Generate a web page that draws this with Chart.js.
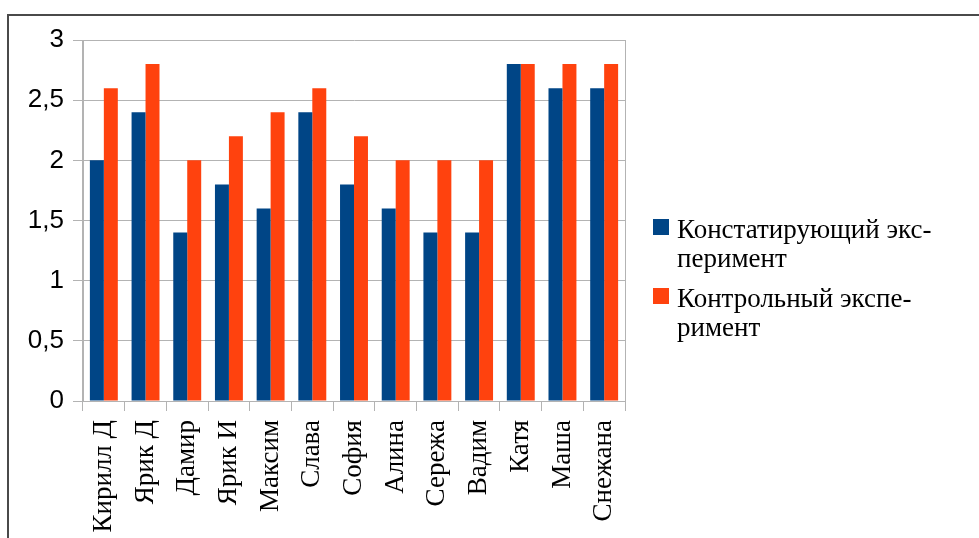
<!DOCTYPE html>
<html>
<head>
<meta charset="utf-8">
<script src="https://cdn.jsdelivr.net/npm/chart.js@4"></script>
<style>
  html, body { margin: 0; padding: 0; background: #fff; overflow: hidden; }
  #wrap { position: relative; width: 979px; height: 538px; }
  #frame { position: absolute; left: 7px; top: 14px; width: 1000px; height: 600px;
           border-top: 2px solid #4a4a4a; border-left: 2px solid #4a4a4a; box-sizing: border-box; }
  canvas { position: absolute; left: 0; top: 0; }
</style>
</head>
<body>
<div id="wrap">
  <div id="frame"></div>
  <canvas id="chart" width="979" height="538"></canvas>
</div>
<script>
// Names of the pupils
const names = ['Кирилл Д', 'Ярик Д', 'Дамир', 'Ярик И', 'Максим', 'Слава', 'София',
               'Алина', 'Сережа', 'Вадим', 'Катя', 'Маша', 'Снежана'];

// Scores per experiment
const ascertaining = [2, 2.4, 1.4, 1.8, 1.6, 2.4, 1.8, 1.6, 1.4, 1.4, 2.8, 2.6, 2.6];
const control = [2.6, 2.8, 2, 2.2, 2.4, 2.6, 2.2, 2, 2, 2, 2.8, 2.8, 2.8];

// Legend text, split the way it wraps
const seriesNames = ['Констатирующий эксперимент', 'Контрольный эксперимент'];
const legendLines = [
    ['Констатирующий экс-', 'перимент'],
    ['Контрольный экспе-', 'римент']
];
const yTicks = [0, 0.5, 1, 1.5, 2, 2.5, 3];

const colors = ['#004586', '#ff420e'];
const gridGray = '#b3b3b3';

// Legend drawn on the right side of the canvas
const sideLegend = {
    id: 'sideLegend',
    afterDraw(chart) {
        const ctx = chart.ctx;
        ctx.save();
        ctx.font = '27px "Liberation Serif"';
        ctx.textBaseline = 'alphabetic';
        let y = 238;
        legendLines.forEach((lines, i) => {
            ctx.fillStyle = colors[i];
            ctx.fillRect(653, y - 19, 16, 16);
            ctx.fillStyle = '#000';
            lines.forEach((line, j) => {
                ctx.fillText(line, 677, y + j * 29);
            });
            y += 69;
        });
        ctx.restore();
    }
};

const ctx = document.getElementById('chart').getContext('2d');
new Chart(ctx, {
    type: 'bar',
    data: {
        labels: names,
        datasets: [
            { label: seriesNames[0], data: ascertaining, backgroundColor: colors[0] },
            { label: seriesNames[1], data: control, backgroundColor: colors[1] }
        ]
    },
    options: {
        responsive: false,
        animation: false,
        layout: { padding: { left: 0, top: 40, right: 354, bottom: 0 } },
        datasets: { bar: { barPercentage: 1, categoryPercentage: 0.67 } },
        plugins: {
            legend: { display: false },
            tooltip: { enabled: false }
        },
        scales: {
            x: {
                afterFit(scale) { scale.height = 137; },
                border: { color: gridGray },
                grid: {
                    offset: true,
                    tickLength: 10,
                    tickColor: gridGray,
                    color: c => (c.type === 'scale' || c.index === 0) ? gridGray : 'rgba(0,0,0,0)'
                },
                ticks: {
                    minRotation: 90,
                    maxRotation: 90,
                    padding: 9,
                    color: '#000',
                    font: { family: 'Liberation Serif', size: 27 }
                }
            },
            y: {
                min: 0,
                max: 3,
                afterFit(scale) { scale.width = 83; },
                afterBuildTicks(scale) { scale.ticks = yTicks.map(v => ({ value: v })); },
                border: { color: gridGray },
                grid: { color: gridGray, tickLength: 10 },
                ticks: {
                    padding: 9,
                    color: '#000',
                    font: { family: 'Liberation Sans', size: 26 },
                    callback: v => String(v).replace('.', ',')
                }
            }
        }
    },
    plugins: [sideLegend]
});
</script>
</body>
</html>
